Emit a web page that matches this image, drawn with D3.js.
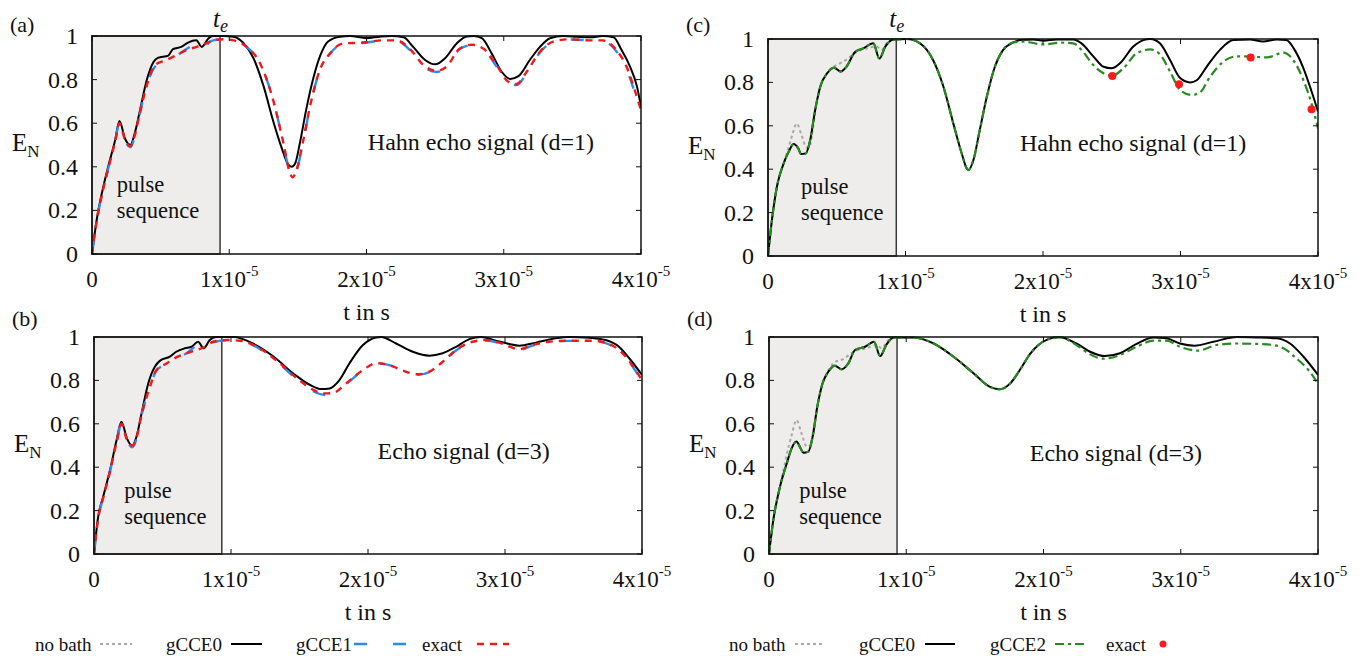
<!DOCTYPE html>
<html>
<head>
<meta charset="utf-8">
<script src="https://cdn.jsdelivr.net/npm/d3@7"></script>
<style>
  body { margin: 0; background: #fff; }
  svg { display: block; }
</style>
</head>
<body>
<svg id="chart"></svg>
<script>
var W = 1367, H = 656;
var FONT = "'Liberation Serif', 'Times New Roman', 'DejaVu Serif', serif";

// time in units of 1e-5 s
var xTicks = [0, 1, 2, 3, 4];
var yTicks = [0, 0.2, 0.4, 0.6, 0.8, 1];
var yTickLabels = ["0", "0.2", "0.4", "0.6", "0.8", "1"];
var tEcho = 0.933;

// (a) Hahn echo d=1
var aGCCE0 = [[0,0],[0.034,0.156],[0.083,0.31],[0.13,0.43],[0.168,0.52],[0.2,0.61],[0.24,0.53],[0.28,0.50],[0.31,0.55],[0.35,0.66],[0.40,0.80],[0.447,0.88],[0.48,0.90],[0.556,0.91],[0.59,0.94],[0.65,0.95],[0.70,0.97],[0.76,0.98],[0.80,0.95],[0.85,0.99],[0.88,1.0],[0.957,1.0],[1.03,0.997],[1.10,0.97],[1.175,0.90],[1.25,0.77],[1.32,0.61],[1.38,0.49],[1.43,0.41],[1.455,0.40],[1.48,0.415],[1.515,0.51],[1.56,0.66],[1.61,0.80],[1.66,0.905],[1.72,0.975],[1.807,0.997],[1.88,1.0],[2.0,0.99],[2.098,0.997],[2.18,1.0],[2.27,0.994],[2.34,0.95],[2.427,0.89],[2.5,0.87],[2.572,0.898],[2.657,0.966],[2.73,0.998],[2.78,1.0],[2.84,0.99],[2.912,0.92],[2.985,0.836],[3.046,0.803],[3.107,0.816],[3.19,0.89],[3.264,0.95],[3.337,0.99],[3.434,1.0],[3.53,0.997],[3.63,0.994],[3.72,1.0],[3.80,0.994],[3.858,0.936],[3.92,0.86],[3.97,0.77],[4.0,0.676]];
var aGCCE1 = [[0,0],[0.034,0.15],[0.083,0.30],[0.13,0.42],[0.168,0.515],[0.2,0.60],[0.24,0.52],[0.28,0.49],[0.31,0.535],[0.35,0.65],[0.40,0.775],[0.46,0.86],[0.544,0.885],[0.617,0.91],[0.70,0.945],[0.762,0.962],[0.81,0.928],[0.85,0.968],[0.884,0.98],[0.957,0.985],[1.03,0.98],[1.127,0.95],[1.224,0.875],[1.32,0.706],[1.394,0.51],[1.443,0.365],[1.462,0.347],[1.49,0.38],[1.54,0.52],[1.588,0.673],[1.66,0.842],[1.734,0.918],[1.83,0.965],[1.977,0.968],[2.12,0.98],[2.22,0.978],[2.317,0.935],[2.414,0.86],[2.51,0.835],[2.584,0.855],[2.68,0.94],[2.766,0.958],[2.85,0.94],[2.948,0.86],[3.033,0.782],[3.094,0.775],[3.167,0.83],[3.264,0.925],[3.36,0.972],[3.48,0.984],[3.63,0.98],[3.72,0.978],[3.82,0.93],[3.894,0.85],[3.955,0.74],[4.0,0.65]];
var aExact = [[0,0],[0.034,0.15],[0.083,0.30],[0.13,0.42],[0.168,0.515],[0.2,0.60],[0.24,0.525],[0.28,0.495],[0.31,0.54],[0.35,0.65],[0.40,0.775],[0.46,0.867],[0.544,0.89],[0.617,0.913],[0.69,0.936],[0.762,0.95],[0.81,0.96],[0.884,0.98],[0.957,0.985],[1.03,0.98],[1.127,0.95],[1.224,0.875],[1.32,0.706],[1.394,0.51],[1.443,0.37],[1.462,0.352],[1.49,0.385],[1.54,0.523],[1.588,0.676],[1.66,0.844],[1.734,0.92],[1.83,0.966],[1.977,0.97],[2.12,0.98],[2.22,0.98],[2.317,0.94],[2.414,0.867],[2.51,0.84],[2.584,0.86],[2.68,0.943],[2.766,0.96],[2.85,0.943],[2.948,0.867],[3.033,0.79],[3.094,0.78],[3.167,0.836],[3.264,0.928],[3.36,0.974],[3.48,0.985],[3.63,0.98],[3.72,0.98],[3.82,0.936],[3.894,0.86],[3.955,0.75],[4.0,0.66]];

// (b) echo d=3
var bGCCE0 = [[0,0],[0.0306,0.172],[0.067,0.264],[0.117,0.387],[0.165,0.525],[0.2,0.61],[0.24,0.533],[0.28,0.498],[0.31,0.54],[0.347,0.648],[0.396,0.786],[0.444,0.863],[0.48,0.89],[0.554,0.91],[0.6,0.932],[0.663,0.948],[0.712,0.955],[0.76,0.978],[0.8,0.948],[0.845,0.986],[0.89,1.0],[1.02,1.0],[1.16,0.97],[1.31,0.91],[1.453,0.833],[1.574,0.78],[1.66,0.76],[1.72,0.763],[1.79,0.80],[1.865,0.879],[1.963,0.963],[2.06,0.998],[2.096,1.0],[2.205,0.97],[2.327,0.932],[2.448,0.914],[2.545,0.925],[2.643,0.955],[2.74,0.99],[2.825,1.0],[2.934,0.983],[3.03,0.968],[3.104,0.96],[3.225,0.974],[3.37,0.994],[3.468,1.0],[3.614,0.997],[3.735,0.986],[3.832,0.955],[3.917,0.894],[4.0,0.825]];
var bGCCE1 = [[0,0],[0.0306,0.165],[0.067,0.258],[0.117,0.38],[0.165,0.515],[0.2,0.60],[0.24,0.522],[0.28,0.492],[0.31,0.53],[0.347,0.64],[0.408,0.77],[0.456,0.845],[0.53,0.875],[0.6,0.9],[0.675,0.925],[0.76,0.96],[0.81,0.93],[0.87,0.975],[0.97,0.985],[1.065,0.982],[1.21,0.945],[1.355,0.875],[1.5,0.795],[1.6,0.75],[1.685,0.733],[1.745,0.738],[1.84,0.783],[1.963,0.846],[2.06,0.878],[2.156,0.87],[2.254,0.843],[2.363,0.826],[2.448,0.838],[2.545,0.884],[2.643,0.938],[2.764,0.976],[2.861,0.984],[2.958,0.972],[3.067,0.945],[3.1,0.94],[3.2,0.96],[3.32,0.976],[3.468,0.982],[3.638,0.982],[3.735,0.972],[3.832,0.936],[3.93,0.865],[4.0,0.795]];
var bExact = [[0,0],[0.0306,0.165],[0.067,0.258],[0.117,0.38],[0.165,0.515],[0.2,0.60],[0.24,0.528],[0.28,0.50],[0.31,0.535],[0.347,0.64],[0.408,0.77],[0.456,0.848],[0.53,0.878],[0.6,0.906],[0.675,0.925],[0.75,0.94],[0.81,0.955],[0.87,0.978],[0.97,0.986],[1.065,0.983],[1.21,0.948],[1.355,0.879],[1.5,0.80],[1.6,0.756],[1.685,0.74],[1.745,0.742],[1.84,0.786],[1.963,0.848],[2.06,0.879],[2.156,0.871],[2.254,0.845],[2.363,0.828],[2.448,0.84],[2.545,0.886],[2.643,0.94],[2.764,0.978],[2.861,0.986],[2.958,0.974],[3.067,0.948],[3.1,0.943],[3.2,0.963],[3.32,0.978],[3.468,0.983],[3.638,0.983],[3.735,0.974],[3.832,0.94],[3.93,0.87],[4.0,0.80]];

// (c) Hahn echo d=1, gCCE2
var cNoBath = [[0,0],[0.0287,0.166],[0.065,0.32],[0.114,0.427],[0.15,0.50],[0.18,0.565],[0.208,0.611],[0.244,0.557],[0.28,0.50],[0.30,0.50],[0.32,0.56],[0.343,0.66],[0.38,0.78],[0.43,0.842],[0.47,0.87],[0.5,0.88],[0.57,0.905],[0.645,0.94],[0.72,0.957],[0.79,0.965],[0.826,0.95],[0.873,0.988],[0.936,1.0],[1.01,1.0]];
var cGCCE0 = [[0,0],[0.0287,0.166],[0.065,0.32],[0.114,0.427],[0.15,0.48],[0.186,0.516],[0.22,0.496],[0.24,0.47],[0.275,0.473],[0.307,0.535],[0.343,0.673],[0.38,0.78],[0.43,0.842],[0.48,0.868],[0.528,0.85],[0.57,0.872],[0.633,0.94],[0.693,0.957],[0.766,0.98],[0.81,0.91],[0.853,0.965],[0.913,0.998],[1.01,1.0],[1.106,0.98],[1.203,0.90],[1.276,0.78],[1.348,0.61],[1.41,0.47],[1.445,0.404],[1.457,0.396],[1.493,0.44],[1.54,0.58],[1.59,0.73],[1.65,0.872],[1.71,0.95],[1.78,0.983],[1.833,0.995],[1.93,0.998],[2.003,0.992],[2.1,0.998],[2.22,0.998],[2.28,0.98],[2.366,0.92],[2.44,0.872],[2.5,0.865],[2.56,0.888],[2.657,0.965],[2.73,0.995],[2.78,1.0],[2.85,0.98],[2.924,0.903],[2.997,0.82],[3.07,0.80],[3.118,0.81],[3.19,0.872],[3.287,0.95],[3.384,0.995],[3.505,0.998],[3.6,0.988],[3.70,0.998],[3.77,0.995],[3.83,0.95],[3.89,0.872],[3.95,0.765],[4.0,0.665]];
var cGCCE2 = [[0,0],[0.0287,0.166],[0.065,0.32],[0.114,0.427],[0.15,0.48],[0.186,0.516],[0.22,0.496],[0.24,0.47],[0.275,0.473],[0.307,0.535],[0.343,0.673],[0.38,0.78],[0.43,0.842],[0.48,0.868],[0.528,0.85],[0.57,0.872],[0.633,0.94],[0.693,0.957],[0.766,0.98],[0.81,0.91],[0.853,0.965],[0.913,0.998],[1.01,1.0],[1.106,0.98],[1.203,0.90],[1.276,0.78],[1.348,0.61],[1.41,0.47],[1.445,0.404],[1.457,0.396],[1.493,0.44],[1.54,0.58],[1.59,0.73],[1.65,0.872],[1.71,0.95],[1.78,0.983],[1.857,0.988],[2.003,0.975],[2.124,0.983],[2.22,0.98],[2.28,0.95],[2.366,0.88],[2.44,0.842],[2.5,0.83],[2.585,0.865],[2.681,0.934],[2.78,0.952],[2.85,0.93],[2.924,0.85],[2.997,0.765],[3.08,0.742],[3.14,0.753],[3.215,0.826],[3.31,0.895],[3.41,0.92],[3.505,0.919],[3.626,0.915],[3.748,0.937],[3.82,0.903],[3.894,0.81],[3.954,0.70],[4.0,0.588]];
var cExact = [[2.504,0.83],[2.989,0.791],[3.51,0.915],[3.953,0.676]];

// (d) echo d=3, gCCE2
var dNoBath = [[0,0],[0.0316,0.157],[0.08,0.31],[0.11,0.40],[0.13,0.46],[0.165,0.548],[0.2,0.617],[0.237,0.556],[0.275,0.495],[0.30,0.50],[0.318,0.55],[0.352,0.679],[0.39,0.786],[0.42,0.83],[0.47,0.879],[0.545,0.90],[0.617,0.932],[0.712,0.948],[0.785,0.963],[0.82,0.948],[0.87,0.986],[0.908,0.998],[1.05,0.998]];
var dGCCE0 = [[0,0],[0.0316,0.157],[0.08,0.31],[0.13,0.418],[0.165,0.487],[0.2,0.518],[0.23,0.487],[0.25,0.467],[0.287,0.472],[0.318,0.54],[0.352,0.679],[0.39,0.786],[0.432,0.84],[0.48,0.868],[0.53,0.851],[0.578,0.879],[0.627,0.94],[0.7,0.955],[0.765,0.978],[0.81,0.912],[0.854,0.963],[0.908,0.998],[1.05,0.998],[1.2,0.97],[1.343,0.91],[1.49,0.833],[1.61,0.77],[1.68,0.759],[1.756,0.785],[1.83,0.85],[1.9,0.92],[1.963,0.963],[2.035,0.99],[2.11,1.0],[2.24,0.97],[2.339,0.932],[2.448,0.912],[2.557,0.925],[2.678,0.968],[2.8,0.998],[2.897,0.994],[2.994,0.97],[3.1,0.96],[3.237,0.978],[3.41,1.0],[3.553,0.998],[3.7,0.994],[3.796,0.97],[3.893,0.91],[4.0,0.825]];
var dGCCE2 = [[0,0],[0.0316,0.157],[0.08,0.31],[0.13,0.418],[0.165,0.487],[0.2,0.518],[0.23,0.487],[0.25,0.467],[0.287,0.472],[0.318,0.54],[0.352,0.679],[0.39,0.786],[0.432,0.84],[0.48,0.868],[0.53,0.851],[0.578,0.879],[0.627,0.94],[0.7,0.955],[0.765,0.978],[0.81,0.912],[0.854,0.963],[0.908,0.998],[1.05,0.998],[1.2,0.97],[1.343,0.91],[1.49,0.833],[1.61,0.77],[1.68,0.759],[1.756,0.785],[1.83,0.85],[1.9,0.92],[1.963,0.963],[2.035,0.99],[2.12,0.998],[2.24,0.963],[2.339,0.92],[2.437,0.90],[2.557,0.917],[2.678,0.955],[2.8,0.983],[2.897,0.983],[2.994,0.955],[3.127,0.937],[3.26,0.963],[3.41,0.97],[3.553,0.968],[3.675,0.963],[3.748,0.948],[3.846,0.90],[3.93,0.848],[4.0,0.786]];

var styles = {
    nobath: { stroke: "#a8a8a8", width: 2, dash: "3,3" },
    gcce0:  { stroke: "#000000", width: 2, dash: null },
    gcce1:  { stroke: "#2a8cf0", width: 2.4, dash: "13,26" },
    exact:  { stroke: "#f01818", width: 2.4, dash: "7,6" },
    gcce2:  { stroke: "#2a8a22", width: 2.2, dash: "9,4,3,4" }
};

var panels = [
    { tag: "(a)", box: [92, 641, 36, 254], tagY: 32, te: true, note: "Hahn echo signal (d=1)", noteAt: [2.01, 0.477],
      pulseAt: [0.18, 0.27], series: [["gcce0", aGCCE0], ["gcce1", aGCCE1], ["exact", aExact]], dots: null },
    { tag: "(b)", box: [94, 642, 337, 554], tagY: 326, te: false, note: "Echo signal (d=3)", noteAt: [2.07, 0.438],
      pulseAt: [0.22, 0.245], series: [["gcce0", bGCCE0], ["gcce1", bGCCE1], ["exact", bExact]], dots: null },
    { tag: "(c)", box: [768, 1318, 39, 256], tagY: 32, te: true, note: "Hahn echo signal (d=1)", noteAt: [1.833, 0.484],
      pulseAt: [0.24, 0.27], series: [["nobath", cNoBath], ["gcce0", cGCCE0], ["gcce2", cGCCE2]], dots: cExact },
    { tag: "(d)", box: [769, 1318, 337, 554], tagY: 326, te: false, note: "Echo signal (d=3)", noteAt: [1.90, 0.43],
      pulseAt: [0.22, 0.245], series: [["nobath", dNoBath], ["gcce0", dGCCE0], ["gcce2", dGCCE2]], dots: null }
];

var svg = d3.select("#chart")
    .attr("width", W).attr("height", H)
    .attr("font-family", FONT)
    .style("font-family", FONT);
svg.append("rect").attr("width", W).attr("height", H).attr("fill", "#fff");

function label(sel, size) {
    return sel.append("text")
        .attr("font-family", FONT)
        .style("font-family", FONT)
        .style("font-size", size + "px")
        .attr("fill", "#111");
}

panels.forEach(function(p, pi) {
    var x = d3.scaleLinear().domain([0, 4]).range([p.box[0], p.box[1]]);
    var y = d3.scaleLinear().domain([0, 1]).range([p.box[3], p.box[2]]);
    var g = svg.append("g");

    var clipId = "clip" + pi;
    g.append("clipPath").attr("id", clipId).append("rect")
        .attr("x", x(0)).attr("y", y(1) - 2)
        .attr("width", x(4) - x(0)).attr("height", y(0) - y(1) + 2);

    // pulse sequence region
    g.append("rect")
        .attr("x", x(0)).attr("y", y(1))
        .attr("width", x(tEcho) - x(0)).attr("height", y(0) - y(1))
        .attr("fill", "#eeedeb")
        .attr("stroke", "#3a3a3a")
        .attr("stroke-width", 1.5);

    var line = d3.line()
        .x(function(d) { return x(d[0]); })
        .y(function(d) { return y(d[1]); })
        .curve(d3.curveMonotoneX);

    p.series.forEach(function(s) {
        var st = styles[s[0]];
        g.append("path")
            .datum(s[1])
            .attr("clip-path", "url(#" + clipId + ")")
            .attr("fill", "none")
            .attr("stroke", st.stroke)
            .attr("stroke-width", st.width)
            .attr("stroke-dasharray", st.dash)
            .attr("d", line);
    });

    if (p.dots) {
        g.selectAll(".dot").data(p.dots).enter().append("circle")
            .attr("cx", function(d) { return x(d[0]); })
            .attr("cy", function(d) { return y(d[1]); })
            .attr("r", 4)
            .attr("fill", "#ff1a1a");
    }

    // frame
    g.append("rect")
        .attr("x", x(0)).attr("y", y(1))
        .attr("width", x(4) - x(0)).attr("height", y(0) - y(1))
        .attr("fill", "none").attr("stroke", "#111").attr("stroke-width", 1.5);

    // ticks, mirrored, pointing inward
    var tl = 5;
    xTicks.forEach(function(t) {
        g.append("line").attr("x1", x(t)).attr("x2", x(t)).attr("y1", y(0)).attr("y2", y(0) - tl)
            .attr("stroke", "#111").attr("stroke-width", 1);
        g.append("line").attr("x1", x(t)).attr("x2", x(t)).attr("y1", y(1)).attr("y2", y(1) + tl)
            .attr("stroke", "#111").attr("stroke-width", 1);
        var lab = label(g, 23)
            .attr("x", x(t)).attr("y", y(0) + 33)
            .attr("text-anchor", "middle");
        if (t === 0) {
            lab.text("0");
        } else {
            lab.append("tspan").text(t + "x10");
            lab.append("tspan").attr("dy", -11).style("font-size", "15px").text("-5");
        }
    });
    yTicks.forEach(function(v, i) {
        g.append("line").attr("x1", x(0)).attr("x2", x(0) + tl).attr("y1", y(v)).attr("y2", y(v))
            .attr("stroke", "#111").attr("stroke-width", 1);
        g.append("line").attr("x1", x(4)).attr("x2", x(4) - tl).attr("y1", y(v)).attr("y2", y(v))
            .attr("stroke", "#111").attr("stroke-width", 1);
        label(g, 24)
            .attr("x", x(0) - 14).attr("y", y(v) + 8)
            .attr("text-anchor", "end")
            .text(yTickLabels[i]);
    });

    // axis titles
    label(g, 24)
        .attr("x", (x(0) + x(4)) / 2).attr("y", y(0) + 66)
        .attr("text-anchor", "middle")
        .text("t in s");
    var en = label(g, 25)
        .attr("x", x(0) - 80).attr("y", y(0.5) + 6);
    en.append("tspan").text("E");
    en.append("tspan").attr("dy", 6).style("font-size", "17px").text("N");

    label(g, 22)
        .attr("x", x(0) - 82).attr("y", p.tagY)
        .text(p.tag);

    if (p.te) {
        var te = label(g, 25)
            .attr("x", x(tEcho) - 7).attr("y", 27)
            .style("font-style", "italic");
        te.append("tspan").text("t");
        te.append("tspan").attr("dy", 5).style("font-size", "18px").text("e");
    }

    label(g, 24)
        .attr("x", x(p.noteAt[0])).attr("y", y(p.noteAt[1]))
        .text(p.note);

    // two separate lines, spaced so their boxes do not touch
    label(g, 22.5)
        .attr("x", x(p.pulseAt[0])).attr("y", y(p.pulseAt[1]) - 3)
        .text("pulse");
    label(g, 22.5)
        .attr("x", x(p.pulseAt[0])).attr("y", y(p.pulseAt[1]) + 23)
        .text("sequence");
});

// legends
var legends = [
    { items: [["no bath", "nobath"], ["gCCE0", "gcce0"], ["gCCE1", "gcce1"], ["exact", "exact"]],
      textX: [35, 166, 296, 422], sampleX: [100, 231, 354, 477], sampleLen: [32, 31, 52, 32] },
    { items: [["no bath", "nobath"], ["gCCE0", "gcce0"], ["gCCE2", "gcce2"], ["exact", "dot"]],
      textX: [729, 859, 990, 1106], sampleX: [795, 925, 1055, 1163], sampleLen: [30, 30, 30, 0] }
];
var legY = 644;
legends.forEach(function(lg) {
    lg.items.forEach(function(it, i) {
        label(svg, 19)
            .attr("x", lg.textX[i]).attr("y", legY + 7)
            .text(it[0]);
        if (it[1] === "dot") {
            svg.append("circle").attr("cx", lg.sampleX[i]).attr("cy", legY).attr("r", 3.5).attr("fill", "#ff1a1a");
        } else {
            var st = styles[it[1]];
            svg.append("line")
                .attr("x1", lg.sampleX[i]).attr("x2", lg.sampleX[i] + lg.sampleLen[i])
                .attr("y1", legY).attr("y2", legY)
                .attr("stroke", st.stroke)
                .attr("stroke-width", st.width)
                .attr("stroke-dasharray", st.dash);
        }
    });
});
</script>
</body>
</html>
